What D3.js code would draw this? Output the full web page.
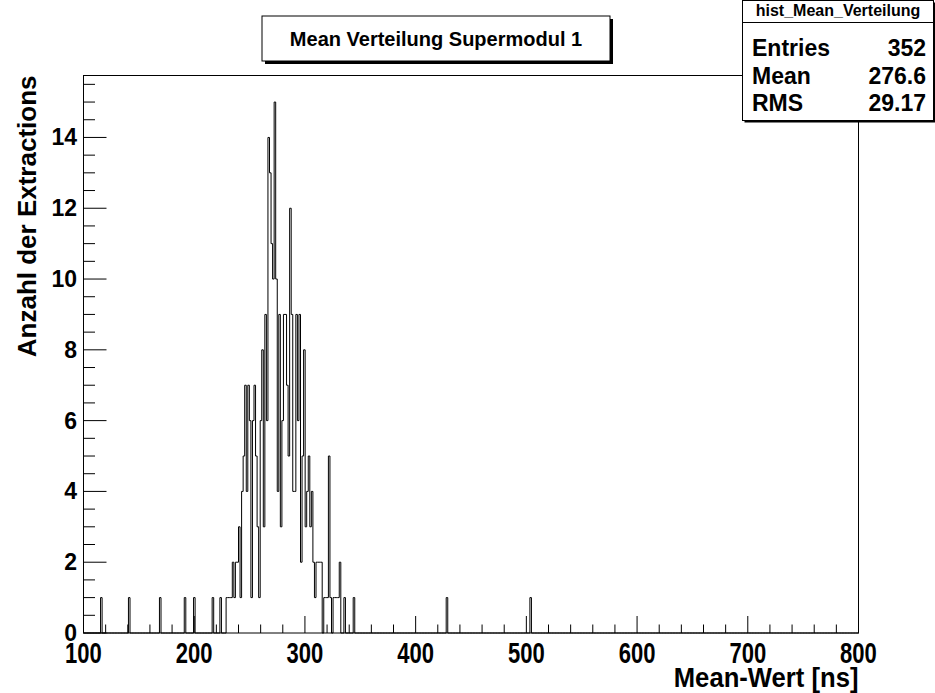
<!DOCTYPE html>
<html>
<head>
<meta charset="utf-8">
<script src="https://cdn.jsdelivr.net/npm/d3@7"></script>
<style>
  body { margin: 0; background: #fff; }
  svg { display: block; }
  text { font-family: "Liberation Sans", Arial, Helvetica, sans-serif; font-weight: bold; fill: #000; }
</style>
</head>
<body>
<svg id="canvas" width="935" height="693"></svg>
<script>
// Histogram contents: lower bin edge [ns] and entries (500 bins of 1.4 ns, empty bins omitted)
const binLow = [
  115.4, 140.6, 168.6, 191.0, 199.4, 216.2, 223.2,
  228.8, 230.2, 231.6, 233.0, 234.4, 235.8, 237.2,
  238.6, 240.0, 241.4, 242.8, 244.2, 245.6, 247.0, 248.4, 249.8, 251.2,
  252.6, 254.0, 255.4, 256.8, 258.2, 259.6, 261.0, 262.4, 263.8, 265.2,
  266.6, 268.0, 269.4, 270.8, 272.2, 273.6, 275.0, 276.4, 277.8, 279.2,
  280.6, 282.0, 283.4, 284.8, 286.2, 287.6, 289.0, 290.4, 291.8, 293.2,
  294.6, 296.0, 297.4, 298.8, 300.2, 301.6, 303.0, 304.4, 305.8, 307.2,
  308.6, 310.0, 311.4, 312.8, 314.2, 317.0, 318.4, 319.8, 321.2,
  322.6, 325.4, 326.8, 328.2, 329.6, 331.0, 335.2, 343.6,
  427.6, 503.2
];
const binCount = [
  1, 1, 1, 1, 1, 1, 1,
  1, 1, 1, 1, 2, 1, 2,
  2, 3, 1, 4, 5, 7, 4, 7, 6, 1,
  6, 7, 5, 3, 1, 6, 8, 3, 9, 6,
  14, 13, 11, 10, 15, 10, 4, 9, 3, 6,
  9, 9, 7, 5, 12, 9, 4, 4, 9, 6,
  9, 2, 5, 8, 3, 4, 5, 3, 4, 2,
  1, 2, 2, 2, 2, 1, 1, 1, 5,
  1, 1, 1, 1, 1, 2, 1, 1,
  1, 1
];
const binWidth = 1.4;
const xRange = [100, 800];
const yMax = 15.75;

const xTickValues = [100, 200, 300, 400, 500, 600, 700, 800];
const yTickValues = [0, 2, 4, 6, 8, 10, 12, 14];

const histTitle = "Mean Verteilung Supermodul 1";
const xTitle = "Mean-Wert [ns]";
const yTitle = "Anzahl der Extractions";
const statsName = "hist_Mean_Verteilung";
const statLabels = ["Entries", "Mean", "RMS"];
const statValues = ["352", "276.6", "29.17"];

// ---- layout ----
const frame = { left: 83.5, right: 858.5, top: 75.5, bottom: 633 };
const svg = d3.select("#canvas");

const x = d3.scaleLinear().domain(xRange).range([frame.left, frame.right]);
const y = d3.scaleLinear().domain([0, yMax]).range([frame.bottom, frame.top]);

// full bin table
const nBins = Math.round((xRange[1] - xRange[0]) / binWidth);
const counts = new Array(nBins).fill(0);
binLow.forEach((b, i) => { counts[Math.round((b - xRange[0]) / binWidth)] += binCount[i]; });

// step outline across all bins
const pts = [];
counts.forEach((c, i) => {
  const lo = xRange[0] + i * binWidth;
  pts.push([lo, c], [lo + binWidth, c]);
});
svg.append("path")
  .attr("d", d3.line().x(d => x(d[0])).y(d => y(d[1]))(pts))
  .attr("fill", "none")
  .attr("stroke", "#000")
  .attr("stroke-width", 1);

// frame
svg.append("rect")
  .attr("x", frame.left).attr("y", frame.top)
  .attr("width", frame.right - frame.left).attr("height", frame.bottom - frame.top)
  .attr("fill", "none").attr("stroke", "#000").attr("stroke-width", 1);

// x axis ticks (inside the frame)
const xMinor = d3.range(xRange[0], xRange[1] + 0.1, 20);
svg.append("g").selectAll("line").data(xMinor).join("line")
  .attr("x1", d => x(d)).attr("x2", d => x(d))
  .attr("y1", frame.bottom)
  .attr("y2", d => frame.bottom - (d % 100 === 0 ? 17 : 8.5))
  .attr("stroke", "#000").attr("stroke-width", 1);

// x labels: tall, condensed lettering
svg.append("g").selectAll("text").data(xTickValues).join("text")
  .attr("transform", d => `translate(${x(d)},663) scale(0.76,1)`)
  .attr("text-anchor", "middle")
  .attr("font-size", 29)
  .text(d => d);

// y axis ticks
const yMinor = d3.range(0, yMax, 0.5);
svg.append("g").selectAll("line").data(yMinor).join("line")
  .attr("y1", d => y(d)).attr("y2", d => y(d))
  .attr("x1", frame.left)
  .attr("x2", d => frame.left + (d % 2 === 0 ? 23 : 11.5))
  .attr("stroke", "#000").attr("stroke-width", 1);

svg.append("g").selectAll("text").data(yTickValues).join("text")
  .attr("x", 77).attr("y", d => y(d) + 8)
  .attr("text-anchor", "end")
  .attr("font-size", 23)
  .text(d => d);

// axis titles
svg.append("text")
  .attr("transform", `translate(${frame.right},687) scale(0.95,1)`)
  .attr("text-anchor", "end")
  .attr("font-size", 27)
  .text(xTitle);

svg.append("text")
  .attr("transform", `translate(36,${frame.top}) rotate(-90)`)
  .attr("text-anchor", "end")
  .attr("font-size", 26)
  .text(yTitle);

// title box with shadow
const tb = { x: 262, y: 16, w: 348, h: 45 };
svg.append("rect").attr("x", tb.x + 3).attr("y", tb.y + 3).attr("width", tb.w).attr("height", tb.h).attr("fill", "#000");
svg.append("rect").attr("x", tb.x).attr("y", tb.y).attr("width", tb.w).attr("height", tb.h)
  .attr("fill", "#fff").attr("stroke", "#000").attr("stroke-width", 1);
svg.append("text")
  .attr("x", tb.x + tb.w / 2).attr("y", tb.y + tb.h / 2 + 7)
  .attr("text-anchor", "middle").attr("font-size", 20)
  .text(histTitle);

// statistics box
const sb = { x: 742.5, y: 0.5, w: 191, h: 120 };
svg.append("rect").attr("x", sb.x + 2).attr("y", sb.y + 2).attr("width", sb.w).attr("height", sb.h).attr("fill", "#000");
svg.append("rect").attr("x", sb.x).attr("y", sb.y).attr("width", sb.w).attr("height", sb.h)
  .attr("fill", "#fff").attr("stroke", "#000").attr("stroke-width", 1);
svg.append("text")
  .attr("x", sb.x + sb.w / 2).attr("y", 16)
  .attr("text-anchor", "middle").attr("font-size", 16)
  .text(statsName);
svg.append("line").attr("x1", sb.x).attr("x2", sb.x + sb.w).attr("y1", 22.5).attr("y2", 22.5)
  .attr("stroke", "#000");
const rowY = [56, 84, 111];
statLabels.forEach((s, i) => {
  svg.append("text").attr("x", 752).attr("y", rowY[i]).attr("font-size", 23).text(s);
  svg.append("text").attr("x", 926).attr("y", rowY[i]).attr("text-anchor", "end").attr("font-size", 23).text(statValues[i]);
});
</script>
</body>
</html>
